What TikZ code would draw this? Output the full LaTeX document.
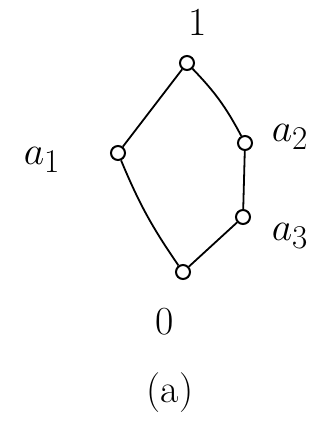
\documentclass[tikz,border=0pt]{standalone}
\begin{document}
\begin{tikzpicture}[x=1pt,y=-1pt,
  vtx/.style={circle,draw,line width=2pt,minimum size=14pt,inner sep=0pt},
  edge/.style={line width=1.8pt},
  lbl/.style={font=\Huge,scale=1.6}]
\useasboundingbox (0,0) rectangle (326,430);
\node[vtx] (one) at (187,63) {};
\node[vtx] (a1) at (118,153) {};
\node[vtx] (a2) at (245,143) {};
\node[vtx] (a3) at (243,217) {};
\node[vtx] (zero) at (183,272) {};
\draw[edge] (one) -- (a1);
\draw[edge] (one) to[bend left=8] (a2);
\draw[edge] (a2) -- (a3);
\draw[edge] (a3) -- (zero);
\draw[edge] (a1) to[bend right=6] (zero);
\node[lbl] (lone) at (198,22) {1};
\node[lbl] (la1) at (42,160) {$a_1$};
\node[lbl] (la2) at (290,137) {$a_2$};
\node[lbl] (la3) at (290,236) {$a_3$};
\node[lbl] (lzero) at (165,322) {0};
\node[lbl] (lcap) at (170,393) {(a)};
\end{tikzpicture}
\end{document}
